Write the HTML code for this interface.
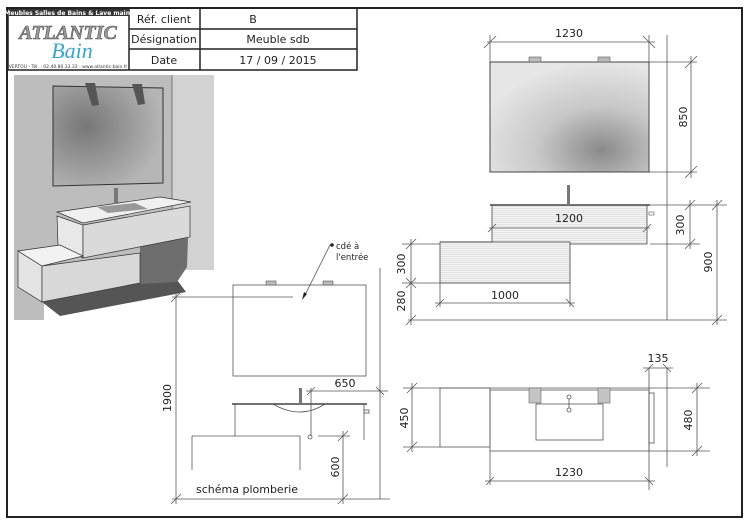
<!DOCTYPE html>
<html><head><meta charset="utf-8"><style>
html,body{margin:0;padding:0;background:#fff;}
svg{display:block;font-family:"DejaVu Sans","Liberation Sans",sans-serif;}
</style></head><body>
<svg width="750" height="525" viewBox="0 0 750 525" xmlns="http://www.w3.org/2000/svg">
<defs>
<radialGradient id="m1" cx="0.7" cy="0.8" r="0.8"><stop offset="0" stop-color="#8a8a8a"/><stop offset="0.5" stop-color="#c8c8c8"/><stop offset="1" stop-color="#e6e6e6"/></radialGradient>
<radialGradient id="m2" cx="0.3" cy="0.4" r="0.7"><stop offset="0" stop-color="#777"/><stop offset="0.6" stop-color="#9c9c9c"/><stop offset="1" stop-color="#b5b5b5"/></radialGradient>
<pattern id="hz" width="4" height="2" patternUnits="userSpaceOnUse"><rect width="4" height="2" fill="#f4f4f4"/><rect width="4" height="0.6" fill="#d6d6d6"/></pattern>
</defs>
<rect x="7" y="8" width="735" height="509" fill="none" stroke="#222" stroke-width="2"/>
<!-- header -->
<g stroke="#222" stroke-width="1.5" fill="none">
<rect x="8" y="8" width="349" height="62"/>
<line x1="129" y1="8" x2="129" y2="70"/><line x1="200" y1="8" x2="200" y2="70"/>
<line x1="129" y1="29" x2="357" y2="29"/><line x1="129" y1="49" x2="357" y2="49"/>
</g>
<rect x="9" y="9" width="120" height="7" fill="#333"/>
<text x="69" y="15" font-size="6" fill="#fff" text-anchor="middle" font-weight="bold">Meubles Salles de Bains &amp; Lave mains</text>
<text x="68" y="39" font-size="20" font-weight="bold" font-style="italic" fill="#999" stroke="#555" stroke-width="0.6" text-anchor="middle" font-family="Liberation Serif,serif">ATLANTIC</text>
<text x="72" y="58" font-size="22" font-style="italic" fill="#3aa6d0" text-anchor="middle" font-family="Liberation Serif,serif">Bain</text>
<text x="68" y="68" font-size="4.5" fill="#333" text-anchor="middle">VERTOU - Tél. : 02.40.80.33.33 - www.atlantic-bain.fr</text>
<g font-size="11" fill="#222" text-anchor="middle">
<text x="164" y="23">Réf. client</text><text x="164" y="43">Désignation</text><text x="164" y="64">Date</text>
<text x="253" y="23">B</text><text x="278" y="43">Meuble sdb</text><text x="278" y="64">17 / 09 / 2015</text>
</g>
<!-- 3D render -->
<rect x="14" y="75" width="200" height="195" fill="#bdbdbd"/>
<rect x="172" y="75" width="42" height="195" fill="#d2d2d2"/>
<line x1="172" y1="75" x2="172" y2="270" stroke="#777"/>
<rect x="14" y="270" width="30" height="50" fill="#bdbdbd"/>
<polygon points="53,86 163,88 163,183 53,186" fill="url(#m2)" stroke="#333"/>
<polygon points="85,83 95,83 99,105 92,106" fill="#555"/><polygon points="132,84 142,84 145,104 138,105" fill="#555"/>
<polygon points="42,302 140,283 177,280 186,292 60,316" fill="#555"/>
<polygon points="140,245 167,240 188,238 187,267 177,282 140,284" fill="#6e6e6e"/>
<polygon points="57,216 83,225 83,258 58,245" fill="#e8e8e8" stroke="#333" stroke-width="0.7"/>
<polygon points="83,225 190,206 190,237 83,258" fill="#dadada" stroke="#333" stroke-width="0.7"/>
<polygon points="57,212 160,197 191,202 83,223" fill="#f0f0f0" stroke="#333" stroke-width="0.7"/>
<polygon points="97,207 135,203 148,209 108,213" fill="#999"/>
<rect x="114" y="188" width="4" height="16" fill="#777"/>
<polygon points="18,251 42,266 42,302 18,287" fill="#e4e4e4" stroke="#333" stroke-width="0.7"/>
<polygon points="42,266 140,253 140,283 42,302" fill="#d8d8d8" stroke="#333" stroke-width="0.7"/>
<polygon points="18,251 60,245 83,256 42,266" fill="#f2f2f2" stroke="#333" stroke-width="0.7"/>
<!-- top-right mirror -->
<rect x="490" y="62" width="159" height="110" fill="url(#m1)" stroke="#444"/>
<rect x="529" y="57" width="12" height="5" fill="#bbb" stroke="#555" stroke-width="0.6"/>
<rect x="598" y="57" width="12" height="5" fill="#bbb" stroke="#555" stroke-width="0.6"/>
<g stroke="#555" stroke-width="0.8" fill="none">
<line x1="487" y1="42" x2="655" y2="42"/><line x1="490" y1="35" x2="490" y2="62"/><line x1="649" y1="35" x2="649" y2="62"/>
<line x1="484" y1="48" x2="496" y2="36"/><line x1="643" y1="36" x2="655" y2="48"/>
<line x1="649" y1="62" x2="697" y2="62"/><line x1="649" y1="172" x2="697" y2="172"/>
<line x1="691" y1="56" x2="691" y2="178"/><line x1="685" y1="68" x2="697" y2="56"/><line x1="685" y1="178" x2="697" y2="166"/>
<line x1="667" y1="35" x2="667" y2="320"/>
</g>
<text x="569" y="37" font-size="11" text-anchor="middle" fill="#222">1230</text>
<text transform="translate(687,117) rotate(-90)" font-size="11" text-anchor="middle" fill="#222">850</text>
<!-- middle elevation -->
<rect x="492" y="205" width="155" height="39" fill="url(#hz)" stroke="#444" stroke-width="0.8"/>
<rect x="440" y="242" width="130" height="41" fill="url(#hz)" stroke="#444" stroke-width="0.8"/>
<line x1="440" y1="242" x2="492" y2="242" stroke="#444"/>
<line x1="490" y1="205" x2="650" y2="205" stroke="#444" stroke-width="1.5"/>
<rect x="567" y="185" width="3" height="20" fill="#777"/>
<rect x="649" y="212" width="5" height="3" fill="none" stroke="#555" stroke-width="0.6"/>
<g stroke="#555" stroke-width="0.8" fill="none">
<line x1="489" y1="228" x2="650" y2="228"/><line x1="488" y1="232" x2="496" y2="224"/><line x1="643" y1="232" x2="651" y2="224"/>
<line x1="650" y1="205" x2="727" y2="205"/><line x1="650" y1="244" x2="700" y2="244"/>
<line x1="690" y1="200" x2="690" y2="249"/><line x1="685" y1="210" x2="695" y2="200"/><line x1="685" y1="249" x2="695" y2="239"/>
<line x1="717" y1="200" x2="717" y2="325"/><line x1="712" y1="210" x2="722" y2="200"/><line x1="712" y1="325" x2="722" y2="315"/>
<line x1="402" y1="244" x2="440" y2="244"/><line x1="402" y1="283" x2="440" y2="283"/>
<line x1="411" y1="239" x2="411" y2="325"/><line x1="406" y1="249" x2="416" y2="239"/><line x1="406" y1="288" x2="416" y2="278"/><line x1="406" y1="325" x2="416" y2="315"/>
<line x1="406" y1="278" x2="416" y2="288"/>
<line x1="408" y1="320" x2="727" y2="320"/>
<line x1="435" y1="303" x2="575" y2="303"/><line x1="436" y1="307" x2="444" y2="299"/><line x1="566" y1="299" x2="574" y2="307"/>
<line x1="440" y1="283" x2="440" y2="307"/><line x1="570" y1="283" x2="570" y2="307"/>
</g>
<text x="569" y="222" font-size="11" text-anchor="middle" fill="#222">1200</text>
<text x="505" y="299" font-size="11" text-anchor="middle" fill="#222">1000</text>
<text transform="translate(684,225) rotate(-90)" font-size="11" text-anchor="middle" fill="#222">300</text>
<text transform="translate(712,262) rotate(-90)" font-size="11" text-anchor="middle" fill="#222">900</text>
<text transform="translate(405,264) rotate(-90)" font-size="11" text-anchor="middle" fill="#222">300</text>
<text transform="translate(405,301) rotate(-90)" font-size="11" text-anchor="middle" fill="#222">280</text>
<!-- plan view -->
<g stroke="#555" stroke-width="0.8" fill="none">
<line x1="403" y1="388" x2="710" y2="388"/>
<rect x="440" y="388" width="50" height="59"/><rect x="490" y="390" width="159" height="61"/>
<line x1="403" y1="447" x2="440" y2="447"/><line x1="649" y1="451" x2="710" y2="451"/>
<rect x="536" y="404" width="67" height="36"/>
<rect x="649" y="393" width="5" height="50"/>
<line x1="412" y1="383" x2="412" y2="452"/><line x1="407" y1="393" x2="417" y2="383"/><line x1="407" y1="452" x2="417" y2="442"/>
<line x1="697" y1="383" x2="697" y2="456"/><line x1="692" y1="393" x2="702" y2="383"/><line x1="692" y1="456" x2="702" y2="446"/>
<line x1="485" y1="481" x2="655" y2="481"/><line x1="486" y1="485" x2="494" y2="477"/><line x1="645" y1="477" x2="653" y2="485"/>
<line x1="490" y1="451" x2="490" y2="485"/><line x1="649" y1="368" x2="649" y2="490"/><line x1="667" y1="368" x2="667" y2="467"/>
<line x1="643" y1="368" x2="673" y2="368"/><line x1="645" y1="372" x2="653" y2="364"/><line x1="663" y1="364" x2="671" y2="372"/>
<circle cx="569" cy="397" r="2"/><circle cx="569" cy="410" r="2"/><line x1="569" y1="399" x2="569" y2="408"/>
</g>
<rect x="529" y="388" width="12" height="15" fill="#c4c4c4" stroke="#666" stroke-width="0.6"/>
<rect x="598" y="388" width="12" height="15" fill="#c4c4c4" stroke="#666" stroke-width="0.6"/>
<text x="569" y="476" font-size="11" text-anchor="middle" fill="#222">1230</text>
<text x="658" y="362" font-size="11" text-anchor="middle" fill="#222">135</text>
<text transform="translate(408,418) rotate(-90)" font-size="11" text-anchor="middle" fill="#222">450</text>
<text transform="translate(692,420) rotate(-90)" font-size="11" text-anchor="middle" fill="#222">480</text>
<!-- plumbing schema -->
<g stroke="#555" stroke-width="0.8" fill="none">
<rect x="233" y="285" width="133" height="91"/>
<line x1="172" y1="297" x2="293" y2="297"/>
<line x1="176" y1="292" x2="176" y2="504"/><line x1="171" y1="302" x2="181" y2="292"/><line x1="171" y1="504" x2="181" y2="494"/>
<line x1="172" y1="499" x2="390" y2="499"/>
<line x1="380" y1="268" x2="380" y2="499"/>
<line x1="306" y1="391" x2="388" y2="391"/><line x1="307" y1="395" x2="315" y2="387"/><line x1="376" y1="387" x2="384" y2="395"/>
<line x1="311" y1="388" x2="311" y2="436"/>
<line x1="235" y1="404" x2="235" y2="436"/><line x1="192" y1="436" x2="300" y2="436"/>
<line x1="192" y1="436" x2="192" y2="470"/><line x1="300" y1="436" x2="300" y2="470"/>
<line x1="364" y1="404" x2="364" y2="440"/>
<path d="M273,404 Q300,420 325,404"/>
<rect x="364" y="410" width="5" height="3"/>
<circle cx="310" cy="437" r="2"/>
<line x1="318" y1="436" x2="350" y2="436"/>
<line x1="343" y1="431" x2="343" y2="504"/><line x1="338" y1="441" x2="348" y2="431"/><line x1="338" y1="504" x2="348" y2="494"/>
<line x1="304" y1="297" x2="330" y2="245"/><line x1="330" y1="245" x2="333" y2="245"/>
</g>
<line x1="232" y1="404" x2="367" y2="404" stroke="#444" stroke-width="1.5"/>
<rect x="299" y="388" width="3" height="16" fill="#777"/>
<rect x="266" y="281" width="10" height="4" fill="#bbb" stroke="#555" stroke-width="0.6"/>
<rect x="323" y="281" width="10" height="4" fill="#bbb" stroke="#555" stroke-width="0.6"/>
<circle cx="332" cy="245" r="1.8" fill="#222"/>
<polygon points="302,300 304,292 307,294" fill="#222"/>
<text x="336" y="249" font-size="8.5" fill="#222">cdé à</text>
<text x="336" y="260" font-size="8.5" fill="#222">l'entrée</text>
<text x="345" y="387" font-size="11" text-anchor="middle" fill="#222">650</text>
<text transform="translate(171,398) rotate(-90)" font-size="11" text-anchor="middle" fill="#222">1900</text>
<text transform="translate(339,467) rotate(-90)" font-size="11" text-anchor="middle" fill="#222">600</text>
<text x="196" y="493" font-size="11" fill="#222">schéma plomberie</text>
</svg>
</body></html>
